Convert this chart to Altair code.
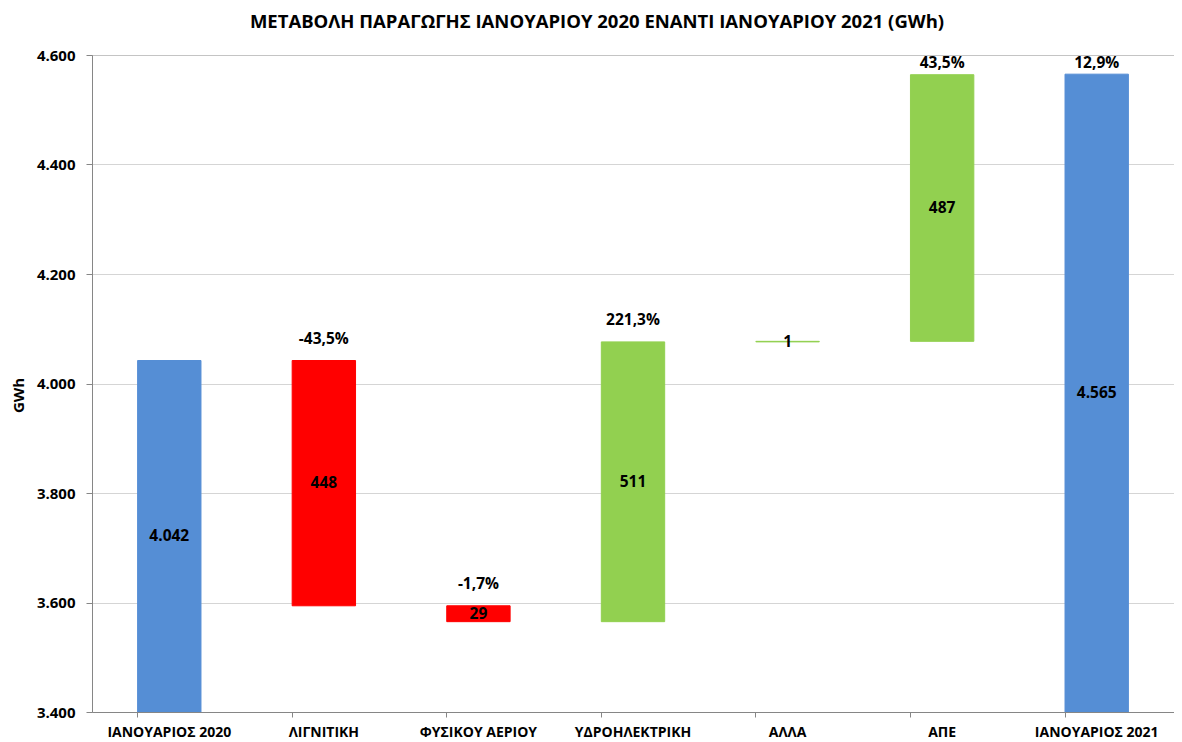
import altair as alt
import pandas as pd

categories = ["ΙΑΝΟΥΑΡΙΟΣ 2020", "ΛΙΓΝΙΤΙΚΗ", "ΦΥΣΙΚΟΥ ΑΕΡΙΟΥ", "ΥΔΡΟΗΛΕΚΤΡΙΚΗ", "ΑΛΛΑ", "ΑΠΕ", "ΙΑΝΟΥΑΡΙΟΣ 2021"]
start_value = 4042
deltas = [-448, -29, 511, 1, 487]
end_value = 4565
pct_labels = ["", "-43,5%", "-1,7%", "221,3%", "", "43,5%", "12,9%"]

BLUE = "#558ED5"
RED = "#FF0000"
GREEN = "#92D050"
FONT = "Open Sans"

rows = []
rows.append(dict(cat=categories[0], lo=3400, hi=start_value, label=f"{start_value:,}".replace(",", "."), color=BLUE))
level = start_value
for c, d in zip(categories[1:6], deltas):
    new = level + d
    rows.append(dict(cat=c, lo=min(level, new), hi=max(level, new), label=f"{abs(d):,}".replace(",", "."),
                     color=GREEN if d > 0 else RED))
    level = new
rows.append(dict(cat=categories[6], lo=3400, hi=end_value, label=f"{end_value:,}".replace(",", "."), color=BLUE))
for r, p in zip(rows, pct_labels):
    r["pct"] = p
df = pd.DataFrame(rows)

x = alt.X("cat:N", sort=categories, title=None,
          scale=alt.Scale(paddingInner=0.59, paddingOuter=0.295),
          axis=alt.Axis(labelAngle=0, labelFont=FONT, labelFontSize=14, labelFontWeight="bold",
                        labelColor="black", labelPadding=8, tickSize=5, tickColor="#868686",
                        domainColor="#868686", bandPosition=0, grid=False, labelBaseline="top"))

base = alt.Chart(df)

bars = base.mark_bar(clip=True, strokeWidth=1).encode(
    x=x,
    y=alt.Y("lo:Q", scale=alt.Scale(domain=[3400, 4600], nice=False, zero=False), title="GWh",
            axis=alt.Axis(values=[3400, 3600, 3800, 4000, 4200, 4400, 4600],
                          labelExpr="replace(format(datum.value, ','), ',', '.')",
                          labelFont=FONT, labelFontSize=15, labelFontWeight="bold", labelColor="black",
                          labelPadding=11, tickSize=6, tickColor="#868686", domainColor="#868686",
                          gridColor="#aaaaaa", gridDash=[1, 1], gridWidth=1,
                          titleFont=FONT, titleFontSize=15, titleFontWeight="bold", titleColor="black",
                          titleX=-74, titleY=340, titleAngle=-90, titleBaseline="middle",
                          titleAlign="center")),
    y2="hi:Q",
    color=alt.Color("color:N", scale=None),
    stroke=alt.Color("color:N", scale=None),
)

values = base.transform_calculate(mid="(datum.lo + datum.hi) / 2").mark_text(
    font=FONT, fontSize=15.5, fontWeight="bold", color="black", baseline="middle"
).encode(x=alt.X("cat:N", sort=categories), y="mid:Q", text="label:N")

pcts = base.transform_filter("datum.pct != ''").transform_calculate(
    ly="min(datum.hi, 4545)"
).mark_text(font=FONT, fontSize=15.5, fontWeight="bold", color="black", baseline="middle", dy=-22).encode(
    x=alt.X("cat:N", sort=categories), y="ly:Q", text="pct:N")

chart = alt.layer(bars, values, pcts).properties(
    width=1082, height=657,
    autosize=alt.AutoSizeParams(type="none"),
    padding={"left": 84, "top": 47, "right": 0, "bottom": 28},
    title=alt.TitleParams("ΜΕΤΑΒΟΛΗ ΠΑΡΑΓΩΓΗΣ ΙΑΝΟΥΑΡΙΟΥ 2020 ΕΝΑΝΤΙ ΙΑΝΟΥΑΡΙΟΥ 2021 (GWh)",
                          font=FONT, fontSize=18.5, fontWeight="bold", color="black",
                          anchor="middle", dx=-36, offset=17),
).configure_view(stroke=None).configure(background="white")

chart.save("out.html", embed_options={"renderer": "svg", "actions": False})
